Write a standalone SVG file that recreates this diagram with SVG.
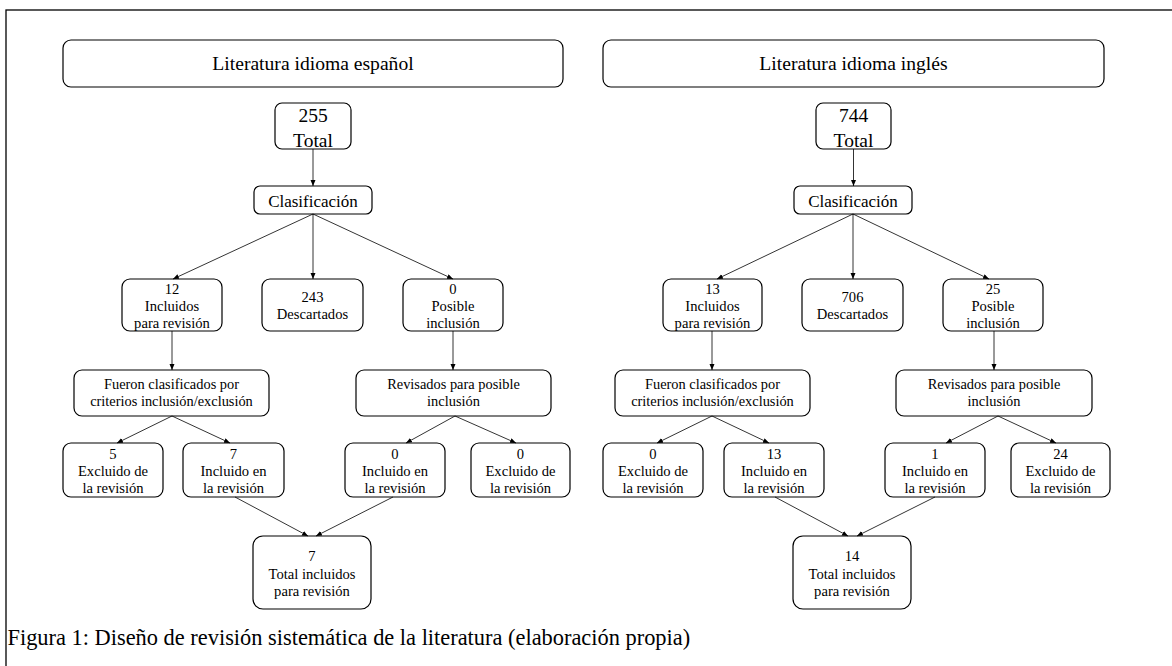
<svg xmlns="http://www.w3.org/2000/svg" width="1172" height="666" viewBox="0 0 1172 666">
<style>
  .box{fill:#fff;stroke:#000;stroke-width:1.2}
  text{font-family:"Liberation Serif","Times New Roman",serif;fill:#000;text-anchor:middle}
  .hd{font-size:19.6px}
  .tt{font-size:19.5px}
  .cl{font-size:17px}
  .sm{font-size:14.6px}
  .l3{font-size:14.4px}
  .cap{font-size:22.4px;text-anchor:start}
  .edge{stroke:#000;stroke-width:0.8;fill:none;marker-end:url(#ah)}
</style>
<defs>
  <marker id="ah" markerUnits="userSpaceOnUse" markerWidth="7" markerHeight="6" refX="6" refY="2.5" orient="auto">
    <path d="M0,0 L6,2.5 L0,5 z" fill="#000"/>
  </marker>
</defs>
<rect x="0" y="0" width="1172" height="666" fill="#fff"/>
<rect x="6" y="10" width="1200" height="700" fill="none" stroke="#000" stroke-width="1.3"/>

<g id="es-header"><rect class="box" x="63" y="40" width="500" height="47" rx="8"/><text class="hd" x="313" y="70">Literatura idioma español</text></g>
<g id="es-total"><rect class="box" x="275" y="103" width="76" height="46" rx="7"/><text class="tt" x="313" y="122">255</text><text class="tt" x="313" y="147">Total</text></g>
<g id="es-clas"><rect class="box" x="254" y="186" width="118" height="28" rx="6"/><text class="cl" x="313" y="206.5">Clasificación</text></g>
<g id="es-inc"><rect class="box" x="122" y="279" width="100" height="52" rx="8"/><text class="sm" x="172" y="293.5">12</text><text class="sm" x="172" y="310.5">Incluidos</text><text class="sm" x="172" y="327.5">para revisión</text></g>
<g id="es-desc"><rect class="box" x="262" y="279" width="101" height="52" rx="8"/><text class="sm" x="312.5" y="302">243</text><text class="sm" x="312.5" y="319">Descartados</text></g>
<g id="es-pos"><rect class="box" x="403" y="279" width="100" height="52" rx="8"/><text class="sm" x="453" y="293.5">0</text><text class="sm" x="453" y="310.5">Posible</text><text class="sm" x="453" y="327.5">inclusión</text></g>
<g id="es-fueron"><rect class="box" x="74" y="370" width="195" height="46" rx="8"/><text class="l3" x="171.5" y="389">Fueron clasificados por</text><text class="l3" x="171.5" y="406">criterios inclusión/exclusión</text></g>
<g id="es-revis"><rect class="box" x="356" y="370" width="195" height="46" rx="8"/><text class="l3" x="453.5" y="389">Revisados para posible</text><text class="l3" x="453.5" y="406">inclusión</text></g>
<g id="es-ex1"><rect class="box" x="63" y="443" width="100" height="54" rx="8"/><text class="sm" x="113" y="458.5">5</text><text class="sm" x="113" y="475.5">Excluido de</text><text class="sm" x="113" y="492.5">la revisión</text></g>
<g id="es-in1"><rect class="box" x="183" y="443" width="101" height="54" rx="8"/><text class="sm" x="233.5" y="458.5">7</text><text class="sm" x="233.5" y="475.5">Incluido en</text><text class="sm" x="233.5" y="492.5">la revisión</text></g>
<g id="es-in2"><rect class="box" x="345" y="443" width="100" height="54" rx="8"/><text class="sm" x="395" y="458.5">0</text><text class="sm" x="395" y="475.5">Incluido en</text><text class="sm" x="395" y="492.5">la revisión</text></g>
<g id="es-ex2"><rect class="box" x="471" y="443" width="99" height="54" rx="8"/><text class="sm" x="520.5" y="458.5">0</text><text class="sm" x="520.5" y="475.5">Excluido de</text><text class="sm" x="520.5" y="492.5">la revisión</text></g>
<g id="es-final"><rect class="box" x="253" y="536" width="118" height="73" rx="10"/><text class="sm" x="312" y="561">7</text><text class="sm" x="312" y="578.5">Total incluidos</text><text class="sm" x="312" y="596">para revisión</text></g>

<g id="en-header"><rect class="box" x="603" y="40" width="501" height="47" rx="8"/><text class="hd" x="853.5" y="70">Literatura idioma inglés</text></g>
<g id="en-total"><rect class="box" x="816" y="103" width="75" height="46" rx="7"/><text class="tt" x="853.5" y="122">744</text><text class="tt" x="853.5" y="147">Total</text></g>
<g id="en-clas"><rect class="box" x="794" y="186" width="118" height="28" rx="6"/><text class="cl" x="853" y="206.5">Clasificación</text></g>
<g id="en-inc"><rect class="box" x="663" y="279" width="99" height="52" rx="8"/><text class="sm" x="712.5" y="293.5">13</text><text class="sm" x="712.5" y="310.5">Incluidos</text><text class="sm" x="712.5" y="327.5">para revisión</text></g>
<g id="en-desc"><rect class="box" x="802" y="279" width="101" height="52" rx="8"/><text class="sm" x="852.5" y="302">706</text><text class="sm" x="852.5" y="319">Descartados</text></g>
<g id="en-pos"><rect class="box" x="943" y="279" width="100" height="52" rx="8"/><text class="sm" x="993" y="293.5">25</text><text class="sm" x="993" y="310.5">Posible</text><text class="sm" x="993" y="327.5">inclusión</text></g>
<g id="en-fueron"><rect class="box" x="615" y="370" width="195" height="46" rx="8"/><text class="l3" x="712.5" y="389">Fueron clasificados por</text><text class="l3" x="712.5" y="406">criterios inclusión/exclusión</text></g>
<g id="en-revis"><rect class="box" x="896" y="370" width="196" height="46" rx="8"/><text class="l3" x="994" y="389">Revisados para posible</text><text class="l3" x="994" y="406">inclusión</text></g>
<g id="en-ex1"><rect class="box" x="603" y="443" width="100" height="54" rx="8"/><text class="sm" x="653" y="458.5">0</text><text class="sm" x="653" y="475.5">Excluido de</text><text class="sm" x="653" y="492.5">la revisión</text></g>
<g id="en-in1"><rect class="box" x="724" y="443" width="100" height="54" rx="8"/><text class="sm" x="774" y="458.5">13</text><text class="sm" x="774" y="475.5">Incluido en</text><text class="sm" x="774" y="492.5">la revisión</text></g>
<g id="en-in2"><rect class="box" x="885" y="443" width="100" height="54" rx="8"/><text class="sm" x="935" y="458.5">1</text><text class="sm" x="935" y="475.5">Incluido en</text><text class="sm" x="935" y="492.5">la revisión</text></g>
<g id="en-ex2"><rect class="box" x="1011" y="443" width="99" height="54" rx="8"/><text class="sm" x="1060.5" y="458.5">24</text><text class="sm" x="1060.5" y="475.5">Excluido de</text><text class="sm" x="1060.5" y="492.5">la revisión</text></g>
<g id="en-final"><rect class="box" x="793" y="536" width="118" height="73" rx="10"/><text class="sm" x="852" y="561">14</text><text class="sm" x="852" y="578.5">Total incluidos</text><text class="sm" x="852" y="596">para revisión</text></g>

<g id="connectors">
  <line class="edge" x1="313" y1="149" x2="313" y2="186"/>
  <line class="edge" x1="313" y1="214" x2="173" y2="279"/>
  <line class="edge" x1="313" y1="214" x2="313" y2="279"/>
  <line class="edge" x1="313" y1="214" x2="453" y2="279"/>
  <line class="edge" x1="172" y1="331" x2="172" y2="370"/>
  <line class="edge" x1="453" y1="331" x2="453" y2="370"/>
  <line class="edge" x1="172" y1="416" x2="117" y2="443"/>
  <line class="edge" x1="172" y1="416" x2="230" y2="443"/>
  <line class="edge" x1="455" y1="416" x2="406" y2="443"/>
  <line class="edge" x1="455" y1="416" x2="516" y2="443"/>
  <line class="edge" x1="235" y1="497" x2="308" y2="536"/>
  <line class="edge" x1="393" y1="497" x2="316" y2="536"/>

  <line class="edge" x1="853.5" y1="149" x2="853.5" y2="186"/>
  <line class="edge" x1="853" y1="214" x2="717" y2="279"/>
  <line class="edge" x1="853" y1="214" x2="853" y2="279"/>
  <line class="edge" x1="853" y1="214" x2="989" y2="279"/>
  <line class="edge" x1="712" y1="331" x2="712" y2="370"/>
  <line class="edge" x1="994" y1="331" x2="994" y2="370"/>
  <line class="edge" x1="712" y1="416" x2="657" y2="443"/>
  <line class="edge" x1="712" y1="416" x2="769" y2="443"/>
  <line class="edge" x1="998" y1="416" x2="946" y2="443"/>
  <line class="edge" x1="998" y1="416" x2="1056" y2="443"/>
  <line class="edge" x1="775" y1="497" x2="848" y2="536"/>
  <line class="edge" x1="935" y1="497" x2="857" y2="536"/>
</g>

<text class="cap" x="7.5" y="645">Figura 1: Diseño de revisión sistemática de la literatura (elaboración propia)</text>
</svg>
